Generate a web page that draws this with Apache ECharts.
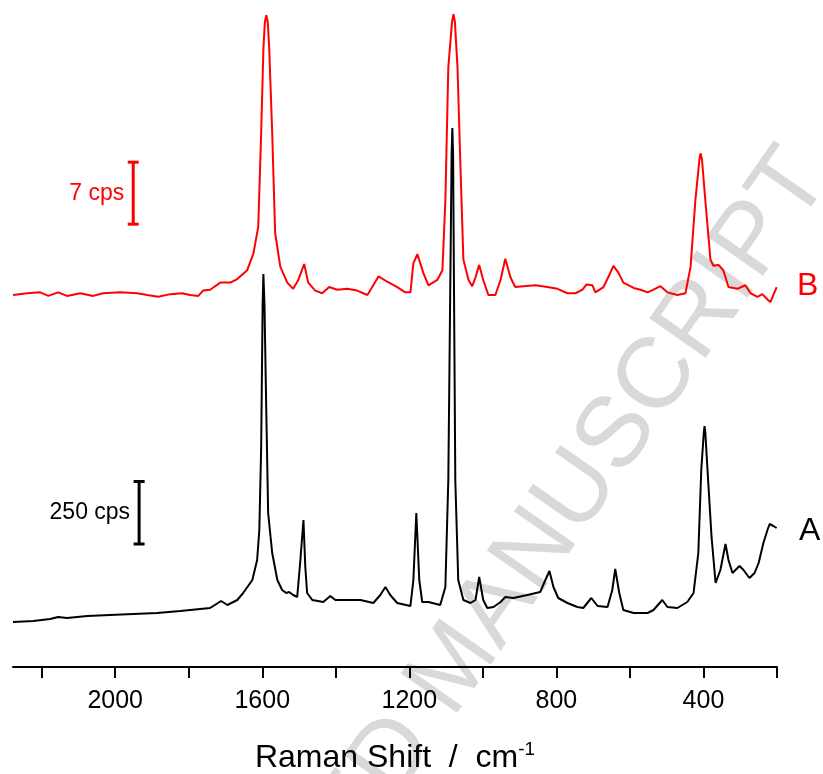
<!DOCTYPE html>
<html>
<head>
<meta charset="utf-8">
<script src="https://cdn.jsdelivr.net/npm/echarts@6/dist/echarts.min.js"></script>
<style>
  html, body { margin: 0; padding: 0; background: #ffffff; }
  #chart { width: 823px; height: 774px; }
</style>
</head>
<body>
<div id="chart"></div>
<script>
// Raman shift (cm-1) and intensity (cps, arbitrary offset) of spectrum A
const shiftA = [2278,2223,2177,2155,2131,2076,2014,1951,1886,1823,1769,1742,1712,1695,1668,1652,1627,1614,1608,1603,1599,1597,1594,1589,1584,1573,1559,1546,1535,1527,1516,1505,1497,1488,1483,1478,1464,1434,1415,1401,1369,1333,1298,1279,1265,1252,1233,1197,1189,1181,1173,1165,1148,1116,1102,1094,1085,1083,1081,1075,1067,1053,1034,1020,1010,999,988,971,952,939,917,879,844,830,819,808,795,770,743,727,705,688,661,648,640,629,618,590,552,536,512,498,471,444,427,414,406,399,397,395,389,378,367,354,340,332,321,313,302,291,275,261,250,237,226,220,210,201];
const countsA = [180,184,192,200,196,204,208,212,216,224,232,236,264,248,268,296,348,428,548,880,1450,1572,1450,1016,616,456,348,308,296,300,288,280,416,588,400,296,268,260,284,268,268,268,256,288,320,288,256,244,348,616,348,260,260,248,320,748,2050,2156,2050,748,348,268,256,268,360,268,236,240,260,280,276,288,300,348,384,320,276,256,240,236,276,244,240,308,392,296,228,216,216,228,268,240,236,260,296,456,788,940,964,940,788,520,336,388,492,428,376,388,404,388,356,376,416,496,548,572,564,556];

// Spectrum B
const shiftB = [2278,2239,2204,2182,2155,2131,2095,2060,2033,1986,1940,1913,1883,1850,1818,1796,1774,1761,1742,1714,1687,1668,1641,1624,1611,1603,1597,1593,1589,1585,1581,1573,1565,1551,1532,1516,1502,1486,1475,1456,1437,1418,1396,1369,1342,1314,1301,1284,1260,1233,1211,1197,1189,1178,1162,1148,1124,1110,1102,1094,1084,1080,1076,1069,1061,1053,1039,1029,1020,1010,999,985,966,952,939,925,912,890,857,825,797,770,748,729,718,702,694,672,659,645,631,618,590,571,552,536,517,498,471,449,435,422,411,408,404,395,381,373,359,346,332,308,286,272,253,240,226,218,210,201];
const countsB = [42.0,42.2,42.3,41.9,42.3,41.9,42.2,41.9,42.2,42.3,42.2,42.0,41.8,42.1,42.2,42.0,41.9,42.5,42.6,43.4,43.4,43.8,44.8,46.7,49.7,60.3,69.7,72.8,73.6,72.8,69.7,60.3,49.0,45.2,43.4,42.7,43.7,45.5,43.4,42.5,42.2,42.9,42.6,42.7,42.5,42.0,42.9,44.1,43.5,42.9,42.3,42.3,45.6,46.6,44.5,43.1,43.7,44.8,52.7,67.7,72.8,73.7,72.8,67.7,56.5,46.0,43.7,43.0,44.0,45.4,43.7,42.0,42.0,43.7,46.1,44.0,42.9,43.0,43.1,42.9,42.7,42.2,42.2,42.6,43.2,43.1,42.3,42.9,44.0,45.3,44.5,43.4,42.8,42.6,42.3,42.6,43.0,42.3,42.0,42.2,45.2,52.7,57.3,58.0,57.3,52.7,46.0,45.3,45.4,44.8,42.9,42.7,43.1,42.2,41.8,42.1,41.5,41.2,42.0,42.9];

// Axis ticks and labels
const tickValues = [200,400,600,800,1000,1200,1400,1600,1800,2000,2200];
const labelValues = [400,800,1200,1600,2000];

// Scale bars: [shift, start cps, end cps]
const scaleBarA = [1935, 492, 742];
const scaleBarALabel = '250 cps';
const scaleBarB = [1951, 50, 57];
const scaleBarBLabel = '7 cps';

const FONT = '"Liberation Sans", Arial, sans-serif';

function zip(xs, ys) { return xs.map((x, i) => [x, ys[i]]); }

function scaleBarRenderer(color, text) {
  return function (params, api) {
    const p0 = api.coord([api.value(0), api.value(1)]);
    const p1 = api.coord([api.value(0), api.value(2)]);
    const cx = p0[0];
    const lw = 3;
    return {
      type: 'group',
      children: [
        { type: 'line', shape: { x1: cx, y1: p0[1], x2: cx, y2: p1[1] }, style: { stroke: color, lineWidth: lw } },
        { type: 'line', shape: { x1: cx - 5.5, y1: p0[1], x2: cx + 5.5, y2: p0[1] }, style: { stroke: color, lineWidth: lw } },
        { type: 'line', shape: { x1: cx - 5.5, y1: p1[1], x2: cx + 5.5, y2: p1[1] }, style: { stroke: color, lineWidth: lw } },
        { type: 'text', style: { x: cx - 9, y: (p0[1] + p1[1]) / 2, text: text, align: 'right', verticalAlign: 'middle', fill: color, fontSize: 23, fontFamily: FONT } }
      ]
    };
  };
}

const chart = echarts.init(document.getElementById('chart'), null, { renderer: 'canvas' });

const option = {
  backgroundColor: '#ffffff',
  animation: false,
  grid: { left: 13, right: 46, top: 7, bottom: 107, containLabel: false, outerBoundsMode: 'none' },
  xAxis: {
    type: 'value',
    inverse: true,
    min: 200,
    max: 2278,
    name: 'Raman Shift  /  cm{sup|-1}',
    nameLocation: 'middle',
    nameGap: 73,
    nameTextStyle: {
      fontSize: 32, fontFamily: FONT, color: '#000',
      rich: { sup: { fontSize: 19, fontFamily: FONT, color: '#000', padding: [0, 0, 17, 0] } }
    },
    axisLine: { show: true, onZero: false, lineStyle: { color: '#000', width: 2 } },
    axisTick: { show: true, inside: false, length: 11, customValues: tickValues, lineStyle: { color: '#000', width: 2 } },
    axisLabel: {
      show: true, customValues: labelValues, margin: 22, fontSize: 25, fontFamily: FONT, color: '#000',
      formatter: function (v) { return String(v); }
    },
    splitLine: { show: false }
  },
  yAxis: [
    { type: 'value', min: 0, max: 2640, show: false },
    { type: 'value', min: 0, max: 74.52, show: false }
  ],
  graphic: [
    {
      type: 'text',
      z: -10,
      silent: true,
      x: 809, y: 162,
      rotation: 55 * Math.PI / 180,
      style: {
        text: 'ACCEPTED MANUSCRIPT',
        align: 'right', verticalAlign: 'middle',
        fontSize: 100, fontFamily: FONT, fill: '#d9d9d9'
      }
    },
    { type: 'text', x: 799, y: 531, style: { text: 'A', fontSize: 32, fontFamily: FONT, fill: '#000', verticalAlign: 'middle' } },
    { type: 'text', x: 797, y: 286, style: { text: 'B', fontSize: 32, fontFamily: FONT, fill: '#ff0000', verticalAlign: 'middle' } }
  ],
  series: [
    {
      name: 'A', type: 'line', yAxisIndex: 0, data: zip(shiftA, countsA),
      showSymbol: false, smooth: false, lineStyle: { color: '#000', width: 2 }, z: 3
    },
    {
      name: 'B', type: 'line', yAxisIndex: 1, data: zip(shiftB, countsB),
      showSymbol: false, smooth: false, lineStyle: { color: '#ff0000', width: 2 }, z: 4
    },
    {
      type: 'custom', yAxisIndex: 0, data: [scaleBarA],
      renderItem: scaleBarRenderer('#000', scaleBarALabel), z: 5
    },
    {
      type: 'custom', yAxisIndex: 1, data: [scaleBarB],
      renderItem: scaleBarRenderer('#ff0000', scaleBarBLabel), z: 5
    }
  ]
};

chart.setOption(option);
</script>
</body>
</html>
